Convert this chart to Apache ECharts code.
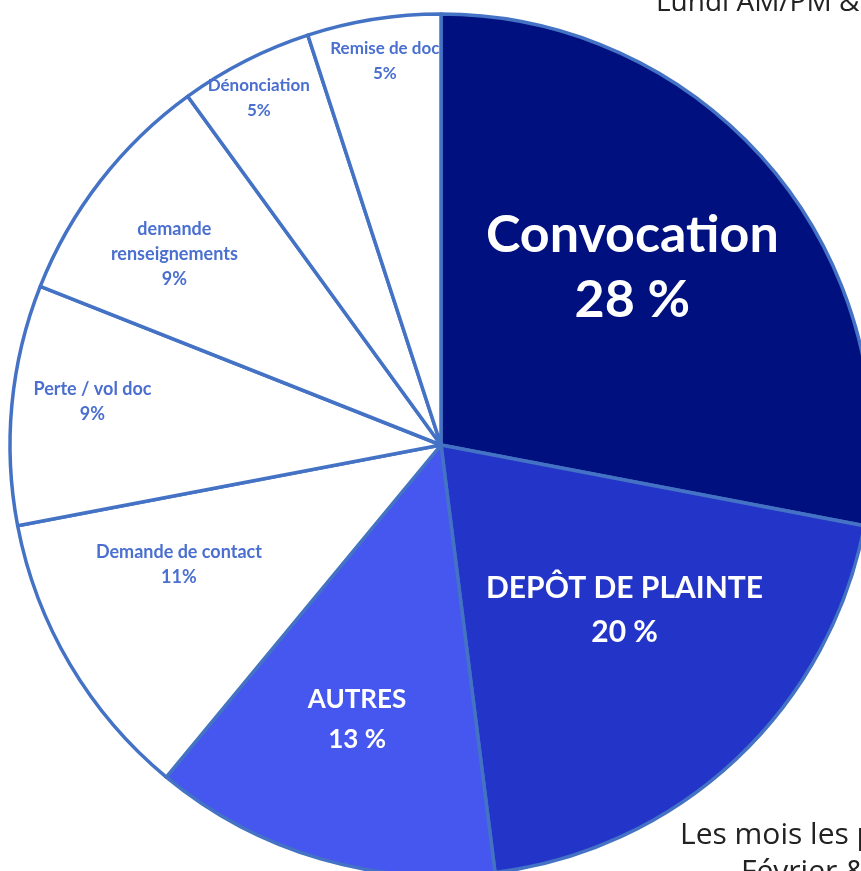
<!DOCTYPE html>
<html>
<head>
<meta charset="utf-8">
<script src="https://cdn.jsdelivr.net/npm/echarts@6/dist/echarts.min.js"></script>
<style>
html,body{margin:0;padding:0;background:#fff;}
#chart{width:861px;height:871px;}
</style>
</head>
<body>
<div id="chart"></div>
<script>
// ---- data ----
var categories = ['Convocation', 'DEPÔT DE PLAINTE', 'AUTRES', 'Demande de contact', 'Perte / vol doc', 'demande\nrenseignements', 'Dénonciation', 'Remise de doc'];
var values = [28, 20, 13, 11, 9, 9, 5, 5];
var percentLabels = ['28 %', '20 %', '13 %', '11%', '9%', '9%', '5%', '5%'];
var noteTop = 'Lundi AM/PM & ';
var noteBottom = ['Les mois les plus chargés :', 'Février & Mars'];

// ---- styles ----
var sliceColors = ['#00107F', '#2334C8', '#4557EE', '#ffffff', '#ffffff', '#ffffff', '#ffffff', '#ffffff'];
var labelStyles = [
  {fontSize: 52, lineHeight: 65, color: '#ffffff'},
  {fontSize: 30, lineHeight: 44, color: '#ffffff'},
  {fontSize: 26, lineHeight: 40, color: '#ffffff'},
  {fontSize: 18, lineHeight: 25, color: '#4A6FD0'},
  {fontSize: 18, lineHeight: 25, color: '#4A6FD0'},
  {fontSize: 18, lineHeight: 25, color: '#4A6FD0'},
  {fontSize: 17, lineHeight: 25, color: '#4A6FD0'},
  {fontSize: 17, lineHeight: 25, color: '#4A6FD0'}
];
var labelOffsets = [[23, -38], [34, 6], [-23, 65], [-74, 8], [-131, -23], [-94, -57], [-83, -152], [-22, -168]];

var data = categories.map(function (c, i) {
  return {
    name: c,
    value: values[i],
    itemStyle: {color: sliceColors[i]},
    label: {
      fontSize: labelStyles[i].fontSize,
      lineHeight: labelStyles[i].lineHeight,
      color: labelStyles[i].color
    }
  };
});

var chart = echarts.init(document.getElementById('chart'), null, {renderer: 'canvas'});
chart.setOption({
  backgroundColor: '#ffffff',
  animation: false,
  graphic: [
    {type: 'text', left: 656, top: -11, style: {text: noteTop, font: '28px "Open Sans"', fill: '#222222'}},
    {type: 'text', left: 680, top: 820, style: {text: noteBottom[0], font: '30px "Open Sans"', fill: '#222222'}},
    {type: 'text', left: 741, top: 857, style: {text: noteBottom[1], font: '30px "Open Sans"', fill: '#222222'}}
  ],
  series: [{
    type: 'pie',
    center: [441, 445],
    radius: [0, 431],
    startAngle: 90,
    clockwise: true,
    avoidLabelOverlap: false,
    itemStyle: {borderColor: '#4472C4', borderWidth: 3.5},
    label: {
      show: true,
      position: 'inside',
      rotate: 0,
      fontFamily: 'Lato',
      fontWeight: 'bold',
      align: 'center',
      formatter: function (p) {
        return p.name + '\n' + percentLabels[p.dataIndex];
      }
    },
    labelLine: {show: false},
    labelLayout: function (p) {
      var o = labelOffsets[p.dataIndex];
      return {dx: o[0], dy: o[1]};
    },
    data: data
  }]
});
</script>
</body>
</html>
